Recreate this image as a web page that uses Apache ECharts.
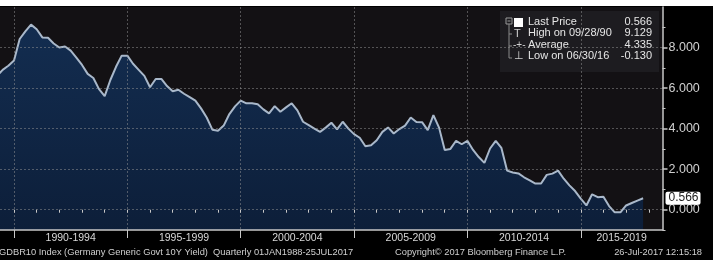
<!DOCTYPE html>
<html>
<head>
<meta charset="utf-8">
<script src="https://cdn.jsdelivr.net/npm/echarts@6/dist/echarts.min.js"></script>
<style>
  html, body { margin: 0; padding: 0; background: #ffffff; }
  #wrap { position: relative; width: 713px; height: 271px; overflow: hidden; }
  #frame { position: absolute; left: 0; top: 6px; width: 713px; height: 254px; background: #000; }
  #chart { position: absolute; left: 0; top: 0; width: 713px; height: 271px; }
</style>
</head>
<body>
<div id="wrap"><div id="frame"></div><div id="chart"></div></div>
<script>
// ---- data (quarter-end points, first one starts off-screen) ----
const firstQuarterEnd = 1989.25;
const yields = [
  6.6, 6.9, 7.1, 7.36,
  8.42, 8.8, 9.13, 8.9,
  8.5, 8.48, 8.2, 8.0,
  8.05, 7.85, 7.5, 7.14,
  6.7, 6.5, 5.95, 5.6,
  6.4, 7.05, 7.6, 7.6,
  7.2, 6.9, 6.6, 6.04,
  6.45, 6.45, 6.1, 5.84,
  5.92, 5.72, 5.55, 5.38,
  5.0, 4.55, 3.95, 3.9,
  4.15, 4.72, 5.1, 5.38,
  5.25, 5.25, 5.2, 4.95,
  4.75, 5.11, 4.83, 5.05,
  5.25, 4.9, 4.34, 4.17,
  4.0, 3.84, 4.05, 4.29,
  3.96, 4.34, 4.0, 3.73,
  3.55, 3.13, 3.18, 3.43,
  3.84, 4.06, 3.76, 3.98,
  4.15, 4.55, 4.33, 4.32,
  3.93, 4.67, 4.05, 2.95,
  3.0, 3.40, 3.23, 3.40,
  2.95, 2.6, 2.31, 3.02,
  3.40, 3.05, 1.93, 1.84,
  1.79, 1.6, 1.45, 1.29,
  1.29, 1.72, 1.78, 1.93,
  1.53, 1.2, 0.92, 0.55,
  0.21, 0.76, 0.62, 0.64,
  0.18, -0.13, -0.13, 0.21,
  0.33, 0.45, 0.566
];
const periodStarts = [1990, 1995, 2000, 2005, 2010, 2015];
const periodLabels = ['1990-1994', '1995-1999', '2000-2004', '2005-2009', '2010-2014', '2015-2019'];
const minorYears = [1989, 1990, 1991, 1992, 1993, 1994, 1995, 1996, 1997, 1998, 1999, 2000, 2001, 2002, 2003,
  2004, 2005, 2006, 2007, 2008, 2009, 2010, 2011, 2012, 2013, 2014, 2015, 2016, 2017, 2018];
const yMajorTicks = [0, 2, 4, 6, 8];
const yMinorTicks = [-1, 1, 3, 5, 7, 9];
const legendLabels = ['Last Price', 'High on 09/28/90', 'Average', 'Low on 06/30/16'];
const legendValues = ['0.566', '9.129', '4.335', '-0.130'];
const footerLeft = 'GDBR10 Index (Germany Generic Govt 10Y Yield)  Quarterly 01JAN1988-25JUL2017';
const footerMid = 'Copyright\u00a9 2017 Bloomberg Finance L.P.';
const footerRight = '26-Jul-2017 12:15:18';

// ---- layout ----
const FONT = 'Liberation Sans, Arial, sans-serif';
const xMin = 1989.382, xMax = 2018.606;
const yMin = -1, yMax = 10;
const lastValue = yields[yields.length - 1];
const seriesData = yields.map((v, i) => [firstQuarterEnd + i * 0.25, v]);
const labelCenters = periodStarts.map(s => (s + Math.min(s + 5, xMax)) / 2);

const gridLine = { show: true, lineStyle: { color: 'rgba(150,150,150,0.5)', type: [2, 2], width: 1 } };
const axisCommon = { min: xMin, max: xMax, type: 'value', position: 'bottom', z: 3 };

const chart = echarts.init(document.getElementById('chart'), null, { renderer: 'canvas' });

const legendTextStyle = { fill: '#e6e6e6', fontSize: 11, fontFamily: FONT };
const legendRows = legendLabels.map((t, i) => ({
  type: 'text', x: 28, y: 5 + i * 11.6,
  style: Object.assign({ text: t }, legendTextStyle)
}));
const legendVals = legendValues.map((t, i) => ({
  type: 'text', x: 152, y: 5 + i * 11.6,
  style: Object.assign({ text: t, align: 'right', textAlign: 'right' }, legendTextStyle)
}));
const footStyle = { color: '#d0d0d0', fontSize: 9.3, fontWeight: 'normal', fontFamily: FONT };

chart.setOption({
  backgroundColor: 'transparent',
  animation: false,
  grid: { left: 0, right: 50.5, top: 7, bottom: 41, show: true, backgroundColor: '#131114', borderWidth: 0, containLabel: false, outerBoundsMode: 'none' },
  xAxis: [
    Object.assign({}, axisCommon, {
      axisLine: { show: true, onZero: false, lineStyle: { color: '#c8c8c8', width: 1.5 } },
      axisTick: { show: true, customValues: periodStarts, length: 8, lineStyle: { color: '#c8c8c8', width: 1 } },
      axisLabel: { show: false },
      splitLine: gridLine
    }),
    Object.assign({}, axisCommon, {
      axisLine: { show: false },
      axisTick: { show: true, customValues: minorYears, length: 3, lineStyle: { color: '#c8c8c8', width: 1 } },
      axisLabel: { show: false },
      splitLine: { show: false }
    }),
    Object.assign({}, axisCommon, {
      z: 5,
      axisLine: { show: false },
      axisTick: { show: false },
      axisLabel: {
        show: true, customValues: labelCenters, margin: 1,
        color: '#d8d8d8', fontSize: 10.5, fontFamily: FONT,
        backgroundColor: '#000', padding: [2, 3, 1, 3],
        formatter: (v) => { const i = labelCenters.findIndex(c => Math.abs(c - v) < 0.01); return i >= 0 ? periodLabels[i] : ''; }
      },
      splitLine: { show: false }
    })
  ],
  yAxis: [
    {
      type: 'value', position: 'right', min: yMin, max: yMax, z: 3,
      axisLine: { show: true, lineStyle: { color: '#c8c8c8', width: 1.5 } },
      axisTick: { show: true, customValues: yMajorTicks, length: 5, lineStyle: { color: '#c8c8c8', width: 1.5 } },
      axisLabel: { show: true, customValues: yMajorTicks, margin: 6, color: '#d0d0d0', fontSize: 12.5,
        fontFamily: FONT, formatter: (v) => v.toFixed(3) },
      splitLine: gridLine
    },
    {
      type: 'value', position: 'right', min: yMin, max: yMax, z: 3,
      axisLine: { show: false },
      axisTick: { show: true, customValues: yMinorTicks, length: 3, lineStyle: { color: '#c8c8c8', width: 1 } },
      axisLabel: { show: false },
      splitLine: { show: false }
    }
  ],
  series: [{
    type: 'line', xAxisIndex: 0, yAxisIndex: 0,
    data: seriesData, showSymbol: false, symbol: 'none', z: 2,
    lineStyle: { color: '#a9b8ca', width: 2 },
    areaStyle: {
      origin: 'start',
      color: new echarts.graphic.LinearGradient(0, 0, 0, 1, [
        { offset: 0, color: '#13396a' }, { offset: 1, color: '#0a2449' }
      ])
    },
    markLine: {
      silent: true, symbol: 'none', animation: false,
      lineStyle: { color: 'rgba(0,0,0,0)', width: 0, type: 'solid' },
      label: { show: true, position: 'end', distance: 3, formatter: lastValue.toFixed(3),
        backgroundColor: '#ffffff', color: '#222', fontSize: 12, padding: [1, 2, 0, 3], borderRadius: 2,
        fontFamily: FONT, opacity: 1 },
      emphasis: { disabled: true },
      data: [{ yAxis: lastValue }]
    }
  }],
  title: [
    { text: footerLeft, left: -1, top: 248, textStyle: footStyle, padding: 0 },
    { text: footerMid, left: 395, top: 248, textStyle: footStyle, padding: 0 },
    { text: footerRight, right: 11, top: 248, textStyle: footStyle, padding: 0 }
  ],
  graphic: [{
    type: 'group', left: 500, top: 11, z: 100,
    children: [
      { type: 'rect', shape: { x: 0, y: 0, width: 159, height: 61 }, style: { fill: '#1d1c20' } },
      { type: 'rect', shape: { x: 6, y: 7, width: 6, height: 6 }, style: { fill: 'none', stroke: '#9a9a9a', lineWidth: 1 } },
      { type: 'line', shape: { x1: 7.5, y1: 10, x2: 10.5, y2: 10 }, style: { stroke: '#9a9a9a', lineWidth: 1 } },
      { type: 'polyline', shape: { points: [[9, 13], [9, 47], [12, 47]] }, style: { stroke: '#8a8a8a', lineWidth: 1, fill: 'none' } },
      { type: 'line', shape: { x1: 9, y1: 23, x2: 12, y2: 23 }, style: { stroke: '#8a8a8a', lineWidth: 1 } },
      { type: 'line', shape: { x1: 9, y1: 35, x2: 12, y2: 35 }, style: { stroke: '#8a8a8a', lineWidth: 1 } },
      { type: 'rect', shape: { x: 14, y: 7, width: 9, height: 9 }, style: { fill: '#ffffff' } },
      { type: 'text', x: 14, y: 17, style: { text: 'T', fill: '#cfcfcf', fontSize: 11, fontFamily: FONT } },
      { type: 'text', x: 13, y: 29, style: { text: '-+-', fill: '#cfcfcf', fontSize: 10, fontFamily: FONT } },
      { type: 'text', x: 14, y: 40, style: { text: '\u22a5', fill: '#cfcfcf', fontSize: 11, fontFamily: 'DejaVu Sans, sans-serif' } }
    ].concat(legendRows, legendVals)
  }]
});
</script>
</body>
</html>
